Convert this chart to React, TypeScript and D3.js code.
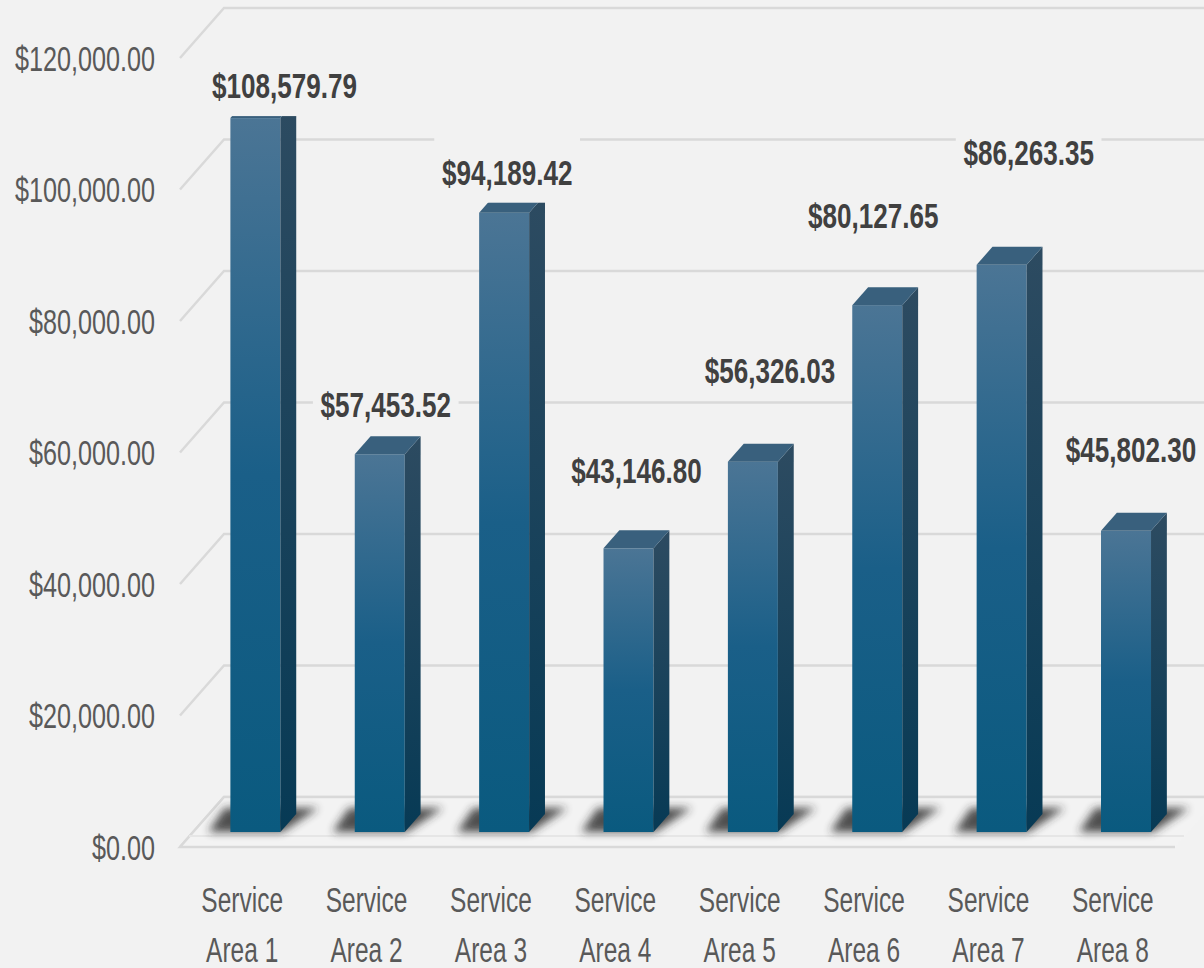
import React from "react";
import * as d3 from "d3";

const CATEGORIES = [
  "Service Area 1",
  "Service Area 2",
  "Service Area 3",
  "Service Area 4",
  "Service Area 5",
  "Service Area 6",
  "Service Area 7",
  "Service Area 8",
];
const VALUES = [108579.79, 57453.52, 94189.42, 43146.8, 56326.03, 80127.65, 86263.35, 45802.3];
const Y_TICKS = [0, 20000, 40000, 60000, 80000, 100000, 120000];
// manual nudges of the data labels (pixels, relative to the bar's top centre)
const LABEL_NUDGE: [number, number][] = [
  [29, -20],
  [6, -37],
  [3, -28],
  [8, -65],
  [17, -79],
  [-4, -77],
  [27, -100],
  [5, -69],
];

const W = 1204;
const H = 968;
const FRONT_LEFT = 180;
const FRONT_RIGHT = 1175;
const DX = 44;
const DY = 50;
const T0 = 0.3;
const T1 = 0.66;
const BAR_W = 50;
const FONT = "'Liberation Sans', Arial, sans-serif";
const FS = 35;
const SX_REG = 0.72;
const SX_BOLD = 0.745;
const BG = "#f2f2f2";
const GRID = "#d9d9d9";

export default function App() {
  const x = d3.scaleBand<string>().domain(CATEGORIES).range([FRONT_LEFT, FRONT_RIGHT]);
  const y = d3.scaleLinear().domain([0, 120000]).range([847, 58]);
  const fmt = d3.format("$,.2f");
  const bw = x.bandwidth();
  const P = (px: number, v: number, t: number) => [px + DX * t, y(v) - DY * t];
  const pts = (a: number[][]) => a.map((p) => p.join(",")).join(" ");

  const floor = [
    P(FRONT_LEFT, 0, 0),
    P(FRONT_RIGHT, 0, 0),
    P(FRONT_RIGHT, 0, 1),
    P(FRONT_LEFT, 0, 1),
  ];
  const f0 = P(FRONT_LEFT, 0, 0);
  const f1 = P(FRONT_LEFT, 0, 1);
  const fr = P(FRONT_RIGHT, 0, 0);

  return (
    <svg
      width={W}
      height={H}
      style={{ position: "absolute", left: 0, top: 0, display: "block" }}
      fontFamily={FONT}
    >
      <defs>
        <linearGradient id="front" x1="0" y1="0" x2="0" y2="1">
          <stop offset="0" stopColor="#4b7595" />
          <stop offset="0.5" stopColor="#1a5f88" />
          <stop offset="1" stopColor="#0a5a7f" />
        </linearGradient>
        <linearGradient id="side" x1="0" y1="0" x2="0" y2="1">
          <stop offset="0" stopColor="#2d4b61" />
          <stop offset="1" stopColor="#073a55" />
        </linearGradient>
        <filter id="blur" x="-50%" y="-100%" width="200%" height="300%">
          <feGaussianBlur stdDeviation="4.5" />
        </filter>
      </defs>
      <rect width={W} height={H} fill={BG} />

      {/* gridlines: side wall diagonal + back wall */}
      {Y_TICKS.map((v) => {
        const a = P(FRONT_LEFT, v, 0);
        const b = P(FRONT_LEFT, v, 1);
        return (
          <polyline
            key={v}
            points={pts([a, b, [W + 20, b[1]]])}
            fill="none"
            stroke={GRID}
            strokeWidth={2.5}
          />
        );
      })}

      {/* floor */}
      <polygon points={pts(floor)} fill="#f3f3f3" />
      <polyline
        points={pts([fr, f0, f1, [W + 20, f1[1]]])}
        fill="none"
        stroke={GRID}
        strokeWidth={2.5}
      />
      <line
        x1={FRONT_LEFT + 9}
        x2={FRONT_RIGHT + 9}
        y1={y(0) - 11}
        y2={y(0) - 11}
        stroke="#e6e6e6"
        strokeWidth={2}
      />

      {/* shadows */}
      {CATEGORIES.map((c) => {
        const cx = (x(c) as number) + bw / 2;
        const fl = cx - BAR_W / 2 + DX * T0;
        const frt = cx + BAR_W / 2 + DX * T0;
        const yb = y(0) - DY * T0;
        const yt = yb - 24;
        return (
          <polygon
            key={"s" + c}
            points={pts([
              [fl - 22, yb],
              [frt + 2, yb],
              [frt + 38, yt],
              [fl - 6, yt],
            ])}
            fill="#262626"
            opacity={0.8}
            filter="url(#blur)"
          />
        );
      })}

      {/* bars */}
      {CATEGORIES.map((c, i) => {
        const v = VALUES[i];
        const cx = (x(c) as number) + bw / 2;
        const xl = cx - BAR_W / 2;
        const xr = cx + BAR_W / 2;
        const ft = P(xl, v, T0);
        const fb = P(xr, 0, T0);
        const side = [P(xr, v, T0), P(xr, v, T1), P(xr, 0, T1), P(xr, 0, T0)];
        const top = [P(xl, v, T0), P(xr, v, T0), P(xr, v, T1), P(xl, v, T1)];
        return (
          <g key={"b" + c}>
            <rect x={ft[0]} y={ft[1]} width={fb[0] - ft[0]} height={fb[1] - ft[1]} fill="url(#front)" />
            <polygon points={pts(side)} fill="url(#side)" />
            <polygon points={pts(top)} fill="#39607d" />
          </g>
        );
      })}

      {/* data labels */}
      {CATEGORIES.map((c, i) => {
        const v = VALUES[i];
        const cx = (x(c) as number) + bw / 2 + DX * T0 + LABEL_NUDGE[i][0];
        const base = y(v) - DY * T0 + LABEL_NUDGE[i][1];
        const txt = fmt(v);
        const tw = txt.length * 0.505 * FS * SX_BOLD;
        return (
          <g key={"l" + c}>
            <rect x={cx - tw / 2 - 7} y={base - 48} width={tw + 14} height={66} fill={BG} />
            <g transform={`translate(${cx},${base}) scale(${SX_BOLD},1)`}>
              <text textAnchor="middle" fontSize={FS} fontWeight="bold" fill="#404040">
                {txt}
              </text>
            </g>
          </g>
        );
      })}

      {/* y axis labels */}
      {Y_TICKS.map((v) => (
        <g key={"y" + v} transform={`translate(155,${y(v) + 12.5}) scale(${SX_REG},1)`}>
          <text textAnchor="end" fontSize={FS} fill="#595959">
            {fmt(v)}
          </text>
        </g>
      ))}

      {/* category labels */}
      {CATEGORIES.map((c) => {
        const cx = (x(c) as number) + bw / 2;
        const k = c.indexOf(" ");
        const lines = [c.slice(0, k), c.slice(k + 1)];
        return (
          <g key={"c" + c} transform={`translate(${cx},0) scale(0.7,1)`}>
            {lines.map((ln, j) => (
              <text key={j} y={912 + j * 50} textAnchor="middle" fontSize={FS} fill="#595959">
                {ln}
              </text>
            ))}
          </g>
        );
      })}
    </svg>
  );
}
